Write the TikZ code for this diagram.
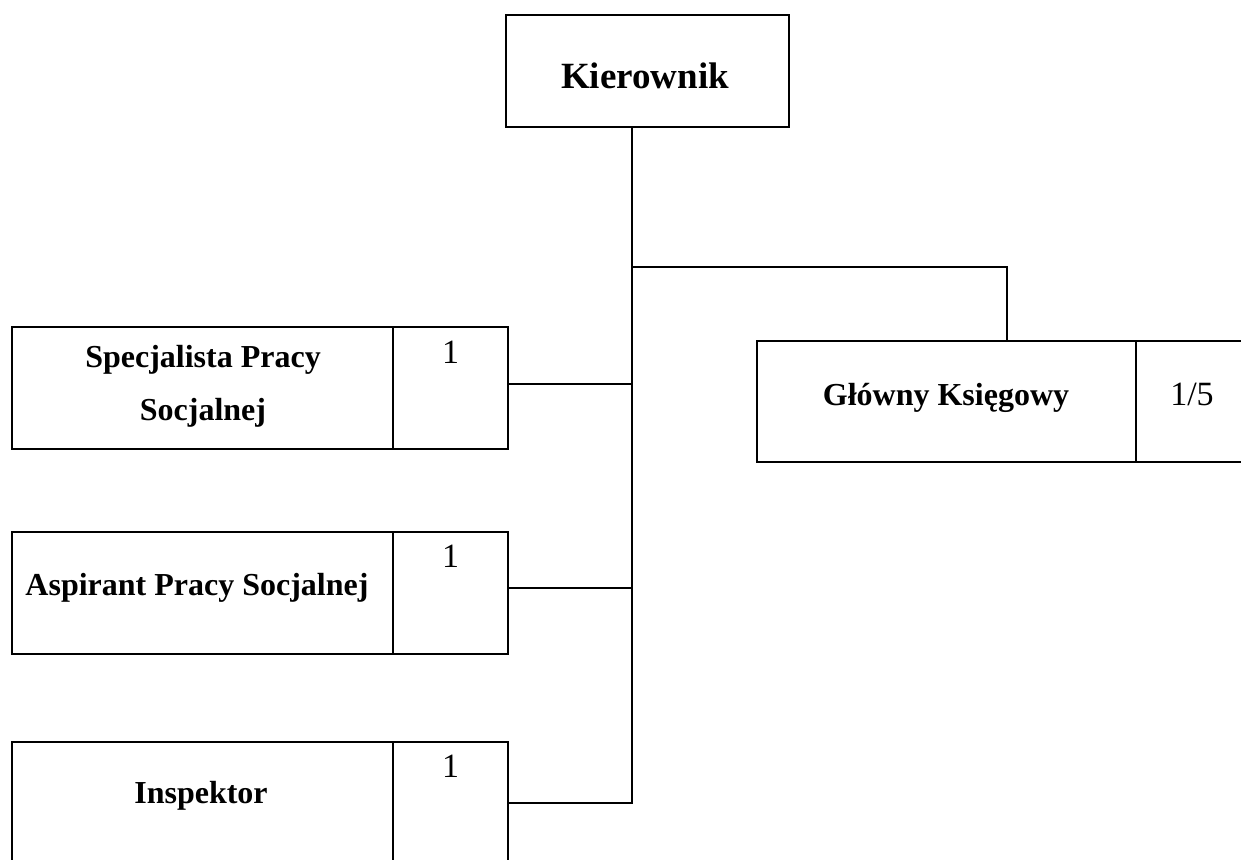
\documentclass[tikz,border=0pt]{standalone}
\usepackage{fontspec}
\setmainfont{Liberation Serif}
\begin{document}
\begin{tikzpicture}[x=1pt,y=-1pt,
  cell/.style={draw, line width=1.7pt, inner sep=0pt, minimum height=122pt},
  lbl/.style={font=\bfseries\fontsize{32}{38}\selectfont, anchor=base, inner sep=0pt},
  num/.style={font=\fontsize{34}{40}\selectfont, anchor=base, inner sep=0pt},
  link/.style={draw, line width=1.7pt}]
\useasboundingbox[fill=white] (0,0) rectangle (1241,859);

% Kierownik
\node[cell, minimum width=283pt, minimum height=112pt] (kier) at (647.5,71) {};
\node[font=\bfseries\fontsize{37}{44}\selectfont, anchor=base, inner sep=0pt] (kiert) at (645,88) {Kierownik};

% Specjalista
\node[cell, minimum width=381pt] (spec) at (202.5,388) {};
\node[cell, minimum width=115pt] (specn) at (450.5,388) {};
\node[lbl] (spect1) at (203,367) {Specjalista Pracy};
\node[lbl] (spect2) at (203,420) {Socjalnej};
\node[num] (specnum) at (450.5,363) {1};

% Aspirant
\node[cell, minimum width=381pt] (asp) at (202.5,593) {};
\node[cell, minimum width=115pt] (aspn) at (450.5,593) {};
\node[lbl] (aspt) at (197,595) {Aspirant Pracy Socjalnej};
\node[num] (aspnum) at (450.5,567) {1};

% Inspektor
\node[cell, minimum width=381pt] (ins) at (202.5,803) {};
\node[cell, minimum width=115pt] (insn) at (450.5,803) {};
\node[lbl] (inst) at (201,803) {Inspektor};
\node[num] (insnum) at (450.5,777) {1};

% Glowny Ksiegowy
\node[cell, minimum width=379pt, minimum height=121pt] (gk) at (946.5,401.5) {};
\node[cell, minimum width=112pt, minimum height=121pt] (gkn) at (1192,401.5) {};
\node[lbl] (gkt) at (946,405) {Główny Księgowy};
\node[num] (gknum) at (1192,405) {1/5};

% connectors
\coordinate (jt) at (632,267);
\coordinate (gkdrop) at (1007,267);
\draw[link] (kier.south -| jt) |- (insn.east);
\draw[link] (jt) -- (gkdrop) -- (gkdrop |- gk.north);
\draw[link] ([yshift=4pt]specn.east) -- ([yshift=4pt]specn.east -| jt);
\draw[link] ([yshift=5pt]aspn.east) -- ([yshift=5pt]aspn.east -| jt);
\end{tikzpicture}
\end{document}
